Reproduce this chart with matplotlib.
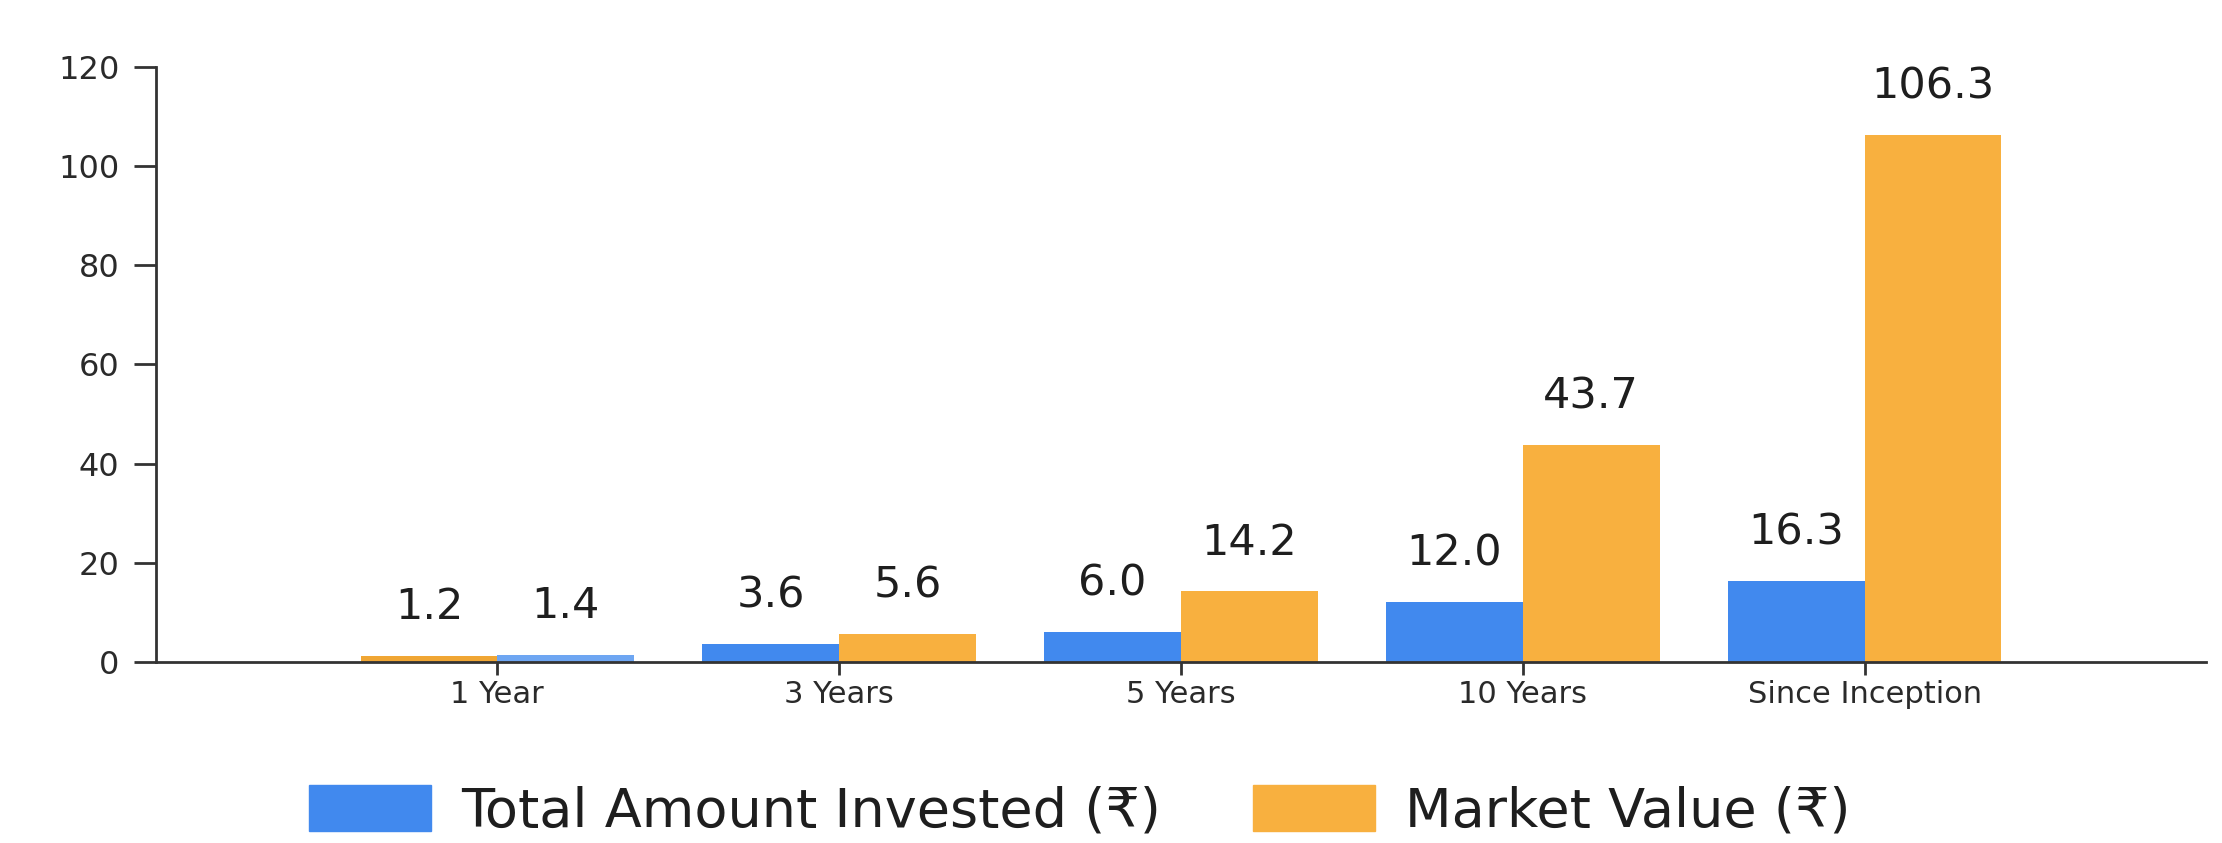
import matplotlib
matplotlib.use("Agg")
import matplotlib.pyplot as plt
import numpy as np
from matplotlib.patches import Patch

categories = ["1 Year", "3 Years", "5 Years", "10 Years", "Since Inception"]
invested = [1.2, 3.6, 6.0, 12.0, 16.3]
market = [1.4, 5.6, 14.2, 43.7, 106.3]
invested_label = "Total Amount Invested (₹)"
market_label = "Market Value (₹)"
yticks = [0, 20, 40, 60, 80, 100, 120]

BLUE = "#4189EE"
ORANGE = "#F8B03F"
# the first group in the reference is drawn with swapped/lighter colours
left_colors = ["#F0A634"] + [BLUE] * 4
right_colors = ["#6EA6F2"] + [ORANGE] * 4

plt.rcParams["font.family"] = ["DejaVu Sans"]

fig = plt.figure(figsize=(22.22, 8.43), dpi=100)
ax = fig.add_axes([0.070, 0.215, 0.923, 0.7055])

x = np.arange(len(categories))
w = 0.4
b1 = ax.bar(x - w / 2, invested, width=w, color=left_colors, zorder=2)
b2 = ax.bar(x + w / 2, market, width=w, color=right_colors, zorder=2)

for bars, vals in ((b1, invested), (b2, market)):
    for rect, v in zip(bars, vals):
        ax.annotate(f"{v:.1f}", (rect.get_x() + rect.get_width() / 2, v),
                    xytext=(0, 35), textcoords="offset points",
                    ha="center", va="center", fontsize=31, color="#1e1e1e")

ax.set_xlim(-1, 5)
ax.set_ylim(0, 120)
ax.set_yticks(yticks)
ax.set_xticks(x)
ax.set_xticklabels(categories)
ax.tick_params(axis="y", length=16, width=2, colors="#333333", labelsize=23, pad=10,
               labelcolor="#2a2a2a")
ax.tick_params(axis="x", length=9, width=2, colors="#333333", labelsize=22, pad=4,
               labelcolor="#2a2a2a")
for s in ("top", "right"):
    ax.spines[s].set_visible(False)
for s in ("left", "bottom"):
    ax.spines[s].set_color("#333333")
    ax.spines[s].set_linewidth(2)

handles = [Patch(color=BLUE, label=invested_label), Patch(color=ORANGE, label=market_label)]
leg = fig.legend(handles=handles, loc="lower center", bbox_to_anchor=(0.486, 0.0), ncol=2,
                 frameon=False, fontsize=39, handlelength=2.25, handleheight=0.95,
                 handletextpad=0.55, columnspacing=1.7, labelcolor="#1e1e1e",
                 borderpad=0.05, borderaxespad=0.05)

fig.savefig("out.png", dpi=100)
